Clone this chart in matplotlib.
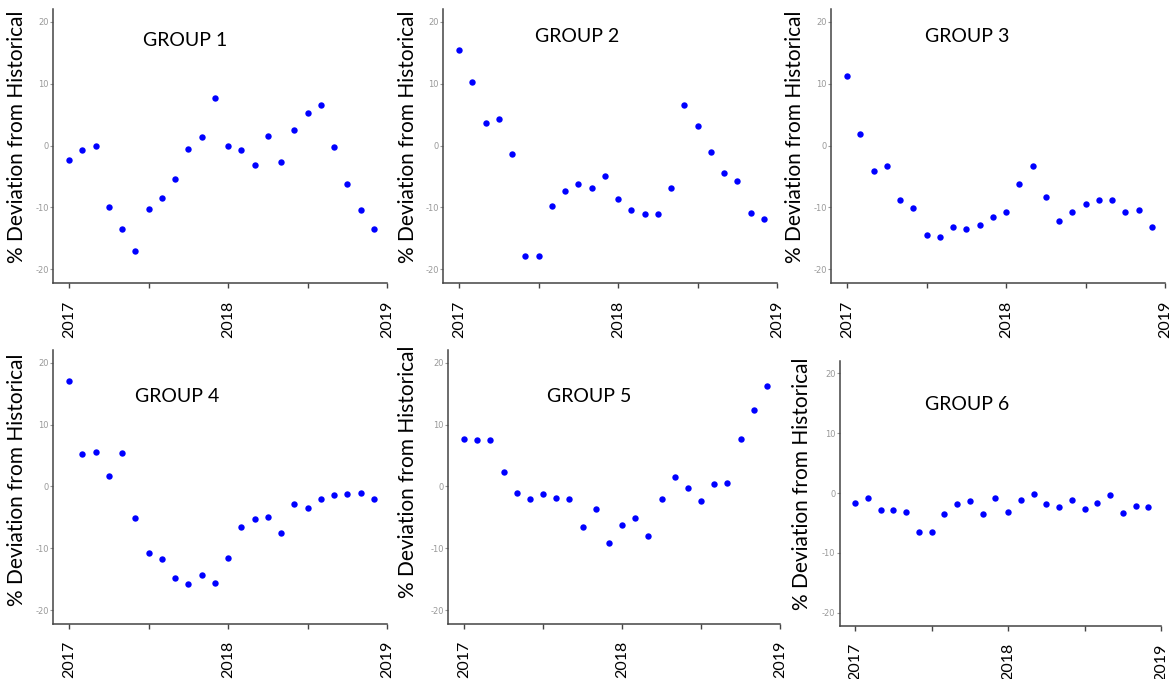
import numpy as np
import matplotlib
matplotlib.use("Agg")
import matplotlib.pyplot as plt

plt.rcParams['font.family'] = ['Lato', 'DejaVu Sans']

months = [f"{y}-{m:02d}" for y in (2017, 2018) for m in range(1, 13)]
x_year = [int(s[:4]) + (int(s[5:]) - 1) / 12 for s in months]

group1 = [-2.3, -0.8, 0.0, -10.0, -13.5, -17.1, -10.2, -8.5, -5.4, -0.6, 1.4, 7.6,
          0.0, -0.8, -3.2, 1.5, -2.6, 2.5, 5.2, 6.6, -0.2, -6.2, -10.4, -13.5]
group2 = [15.4, 10.3, 3.7, 4.3, -1.3, -17.8, -17.9, -9.7, -7.3, -6.2, -6.9, -5.0,
          -8.7, -10.4, -11.0, -11.0, -6.9, 6.5, 3.1, -1.1, -4.5, -5.7, -10.9, -11.9]
group3 = [11.3, 1.8, -4.1, -3.3, -8.8, -10.1, -14.4, -14.8, -13.1, -13.5, -12.9, -11.5,
          -10.8, -6.2, -3.3, -8.3, -12.2, -10.7, -9.5, -8.8, -8.8, -10.7, -10.4, -13.1]
group4 = [17.1, 5.2, 5.6, 1.7, 5.4, -5.1, -10.8, -11.7, -14.8, -15.8, -14.4, -15.7,
          -11.6, -6.5, -5.3, -5.0, -7.5, -2.8, -3.5, -2.1, -1.4, -1.3, -1.0, -2.1]
group5 = [7.7, 7.5, 7.5, 2.3, -1.0, -2.1, -1.3, -1.9, -2.0, -6.5, -3.7, -9.1,
          -6.3, -5.1, -8.0, -2.1, 1.5, -0.3, -2.3, 0.3, 0.5, 7.6, 12.3, 16.2]
group6 = [-1.6, -0.8, -2.8, -2.9, -3.2, -6.5, -6.5, -3.5, -1.9, -1.4, -3.5, -0.8,
          -3.1, -1.2, -0.2, -1.8, -2.4, -1.2, -2.6, -1.6, -0.4, -3.3, -2.1, -2.3]

groups = [group1, group2, group3, group4, group5, group6]
titles = ["GROUP 1", "GROUP 2", "GROUP 3", "GROUP 4", "GROUP 5", "GROUP 6"]
year_ticks = [2017, 2018, 2019]
y_ticks = [-20, -10, 0, 10, 20]

W, H = 1170, 679
fig = plt.figure(figsize=(W / 100, H / 100), dpi=100)

# pixel anchors per panel: x of 2017, x of 2019, y of +20, y of -20
anchors = [(69, 387, 21.7, 269.3), (459, 777, 21.7, 269.3), (847, 1165, 21.7, 269.3),
           (69, 387, 362.7, 610), (464, 780, 362.7, 610), (855, 1161, 373.3, 612.7)]
title_pos = [(185, 40), (577, 37), (967, 37), (177, 397), (589, 397), (967, 405)]
ylab_pos = [(17, 137), (408, 137), (795, 137), (17, 480), (408, 472), (802, 484)]

xlo, xhi = 2016.9, 2019.0
ylo, yhi = -22.2, 22.0

for i, vals in enumerate(groups):
    x17, x19, y20, ym20 = anchors[i]
    ppx = (x19 - x17) / 2
    ppy = (ym20 - y20) / 40
    left = x17 - (2017 - xlo) * ppx
    right = x17 + (xhi - 2017) * ppx
    top = y20 - (yhi - 20) * ppy
    bottom = ym20 + (-20 - ylo) * ppy
    ax = fig.add_axes([left / W, 1 - bottom / H, (right - left) / W, (bottom - top) / H])
    ax.plot(x_year, vals, 'o', color='#0000ff', markersize=4.6, markeredgewidth=0)
    ax.set_xlim(xlo, xhi)
    ax.set_ylim(ylo, yhi)
    ax.set_xticks(year_ticks)
    ax.set_xticks([2017.5, 2018.5], minor=True)
    ax.set_xticklabels([str(t) for t in year_ticks], rotation=90, fontsize=11.5)
    ax.set_yticks(y_ticks)
    ax.set_yticklabels([str(t) for t in y_ticks], fontsize=6, color='#999999',
                       family='DejaVu Sans')
    ax.tick_params(axis='x', which='both', length=3.5, width=1, color='#444444', pad=9)
    ax.tick_params(axis='y', length=2, width=0.8, color='#999999', pad=1)
    for s in ('top', 'right'):
        ax.spines[s].set_visible(False)
    for s in ('left', 'bottom'):
        ax.spines[s].set_color('#444444')
        ax.spines[s].set_linewidth(1.1)
    ax.patch.set_alpha(0)

    tx, ty = title_pos[i]
    fig.text(tx / W, 1 - ty / H, titles[i], ha='center', va='center', fontsize=14)
    lx, ly = ylab_pos[i]
    fig.text(lx / W, 1 - ly / H, "% Deviation from Historical", rotation=90,
             ha='center', va='center', fontsize=15)

fig.savefig("out.png", dpi=100, facecolor='white')
